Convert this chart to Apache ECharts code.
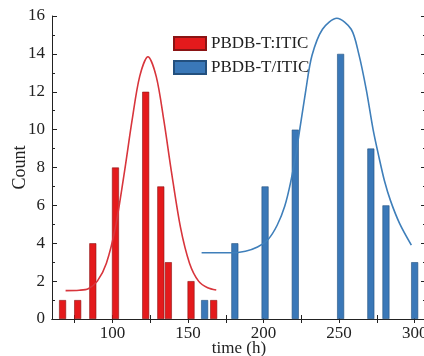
<!DOCTYPE html>
<html>
<head>
<meta charset="utf-8">
<script src="https://cdn.jsdelivr.net/npm/echarts@6/dist/echarts.min.js"></script>
<style>
  html, body { margin: 0; padding: 0; background: #fff; }
  #chart { width: 424px; height: 356px; }
</style>
</head>
<body>
<div id="chart"></div>
<script>
// histogram bins
const redX = [67, 77, 87, 102, 122, 132, 137, 152, 167]
const redY = [1, 1, 4, 8, 12, 7, 3, 2, 1]
const blueX = [161, 181, 201, 221, 251, 271, 281, 300]
const blueY = [1, 4, 7, 10, 14, 9, 6, 3]

// fitted curves, points
const redFitX = [69, 78, 84, 90, 96, 102, 108, 113, 118, 123.5, 129, 134, 139, 145, 151, 157, 163, 168.7]
const redFitY = [1.5, 1.52, 1.6, 2.0, 2.95, 4.85, 7.8, 10.5, 12.8, 13.85, 12.8, 10.5, 7.8, 4.85, 2.95, 2.0, 1.65, 1.53]
const blueFitX = [159, 178, 188, 196, 203, 209, 214, 218, 222, 228, 232, 239, 248.5, 258, 263, 268, 272.5, 276.5, 280, 284, 290, 297.8]
const blueFitY = [3.5, 3.5, 3.58, 3.8, 4.2, 4.95, 5.95, 7.25, 9.0, 12.1, 13.9, 15.3, 15.88, 15.3, 14.0, 12.1, 10.0, 8.5, 7.3, 6.25, 5.05, 3.9]

const xTicks = [75, 100, 125, 150, 175, 200, 225, 250, 275, 300]
const xLabels = [100, 150, 200, 250, 300]

const font = '"Liberation Serif", "Times New Roman", serif'
const ink = '#222'

const pairs = (xs, ys) => xs.map((x, i) => [x, ys[i]])

const chart = echarts.init(document.getElementById('chart'))

const xBase = {
    type: 'value',
    min: 60,
    max: 307.5,
    splitLine: { show: false },
    axisLine: { lineStyle: { color: ink, width: 1 } },
    axisTick: { inside: true, length: 4, customValues: xTicks, lineStyle: { color: ink } },
}
const yBase = {
    type: 'value',
    min: 0,
    max: 16,
    interval: 2,
    splitLine: { show: false },
    axisLine: { show: true, lineStyle: { color: ink, width: 1 } },
    axisTick: { inside: true, length: 5, lineStyle: { color: ink } },
    minorTick: { show: true, splitNumber: 2, length: 3, lineStyle: { color: ink } },
}

chart.setOption({
    animation: false,
    textStyle: { fontFamily: font },
    grid: { left: 52, right: -2, top: 16, bottom: 37, outerBoundsMode: 'none', containLabel: false },
    legend: {
        orient: 'vertical',
        left: 168,
        top: 30,
        itemWidth: 32,
        itemHeight: 13,
        itemGap: 7,
        icon: 'rect',
        textStyle: { fontFamily: font, fontSize: 17, color: ink, padding: [0, 0, 0, 0] },
        data: ['PBDB-T:ITIC', 'PBDB-T/ITIC'],
    },
    xAxis: [
        Object.assign({}, xBase, {
            position: 'bottom',
            name: 'time (h)',
            nameLocation: 'middle',
            nameGap: 21,
            nameMoveOverlap: false,
            nameTextStyle: { fontFamily: font, fontSize: 17, color: ink },
            axisLabel: { customValues: xLabels, fontFamily: font, fontSize: 17, color: ink, margin: 6 },
        }),
        Object.assign({}, xBase, {
            position: 'top',
            axisLabel: { show: false },
        }),
    ],
    yAxis: [
        Object.assign({}, yBase, {
            position: 'left',
            name: 'Count',
            nameLocation: 'middle',
            nameGap: 23,
            nameMoveOverlap: false,
            nameTextStyle: { fontFamily: font, fontSize: 18, color: ink },
            axisLabel: { fontFamily: font, fontSize: 17, color: ink, margin: 7 },
        }),
        Object.assign({}, yBase, {
            position: 'right',
            axisLabel: { show: false },
        }),
    ],
    series: [
        {
            name: 'PBDB-T:ITIC',
            type: 'bar',
            barWidth: 7,
            barGap: '-100%',
            itemStyle: { color: '#e41a1c', borderColor: '#8a1414', borderWidth: 0.6 },
            data: pairs(redX, redY),
        },
        {
            name: 'PBDB-T/ITIC',
            type: 'bar',
            barWidth: 7,
            barGap: '-100%',
            itemStyle: { color: '#3a78b8', borderColor: '#23507e', borderWidth: 0.6 },
            data: pairs(blueX, blueY),
        },
        {
            name: 'red fit',
            type: 'line',
            smooth: 0.3,
            showSymbol: false,
            z: 5,
            lineStyle: { color: '#d8353c', width: 1.6 },
            data: pairs(redFitX, redFitY),
        },
        {
            name: 'blue fit',
            type: 'line',
            smooth: 0.3,
            showSymbol: false,
            z: 5,
            lineStyle: { color: '#3f7fba', width: 1.6 },
            data: pairs(blueFitX, blueFitY),
        },
    ],
})
</script>
</body>
</html>
